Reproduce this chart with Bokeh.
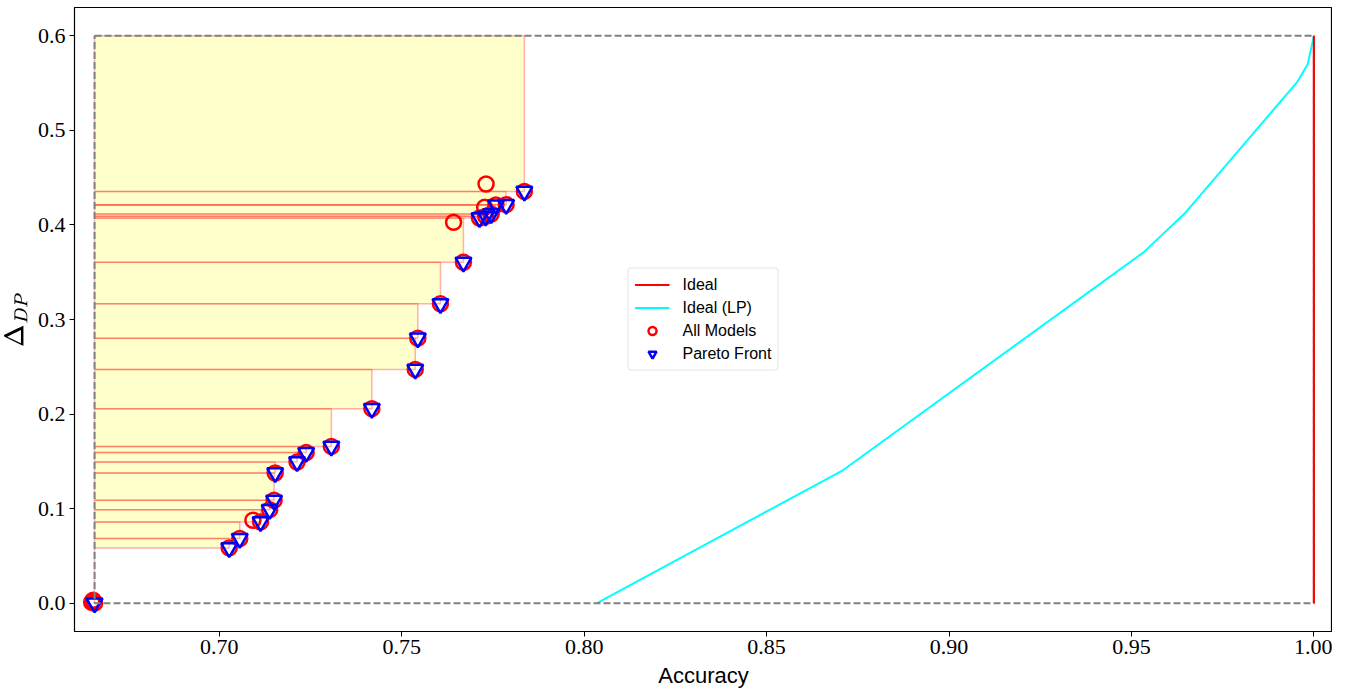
from bokeh.plotting import figure
from bokeh.models import Range1d, FixedTicker, PrintfTickFormatter, Legend, LegendItem, ColumnDataSource
from bokeh.embed import file_html
from bokeh.resources import INLINE

# ---- data ----
pareto_acc = [0.6658, 0.7027, 0.7056, 0.7113, 0.7138, 0.7150, 0.7153, 0.7213, 0.7238, 0.7307,
              0.7418, 0.7537, 0.7544, 0.7606, 0.7669, 0.7713, 0.7730, 0.7745, 0.7758, 0.7786, 0.7836]
pareto_dp = [0.000, 0.0584, 0.0683, 0.0859, 0.0989, 0.1088, 0.1377, 0.1493, 0.1592, 0.1658,
             0.2057, 0.2472, 0.2803, 0.3166, 0.3605, 0.4074, 0.4091, 0.4116, 0.4211, 0.4215, 0.4355]
other_acc = [0.6650, 0.6654, 0.7092, 0.7642, 0.7727, 0.7731]
other_dp = [0.001, 0.003, 0.0877, 0.4028, 0.4186, 0.4433]
all_acc = pareto_acc + other_acc
all_dp = pareto_dp + other_dp

ideal_acc = [1.0, 1.0]
ideal_dp = [0.0, 0.6]
lp_acc = [0.8035, 0.8709, 0.9533, 0.9648, 0.9954, 0.9983, 1.0]
lp_dp = [0.0, 0.1405, 0.371, 0.413, 0.551, 0.570, 0.6]

x_ticks = [0.70, 0.75, 0.80, 0.85, 0.90, 0.95, 1.00]
y_ticks = [0.0, 0.1, 0.2, 0.3, 0.4, 0.5, 0.6]
dp_max = 0.6
acc_max = 1.0

# ---- derived ----
ref_acc = min(pareto_acc)
order = sorted(range(len(pareto_acc)), key=lambda i: pareto_dp[i])
px = [pareto_acc[i] for i in order]
py = [pareto_dp[i] for i in order]
quad_src = ColumnDataSource(dict(
    left=[ref_acc] * len(px),
    right=px,
    bottom=py,
    top=py[1:] + [dp_max],
))

p = figure(width=1332, height=690, output_backend="svg", toolbar_location=None,
           x_range=Range1d(0.6603, 1.0051), y_range=Range1d(-0.03, 0.63),
           min_border_left=65, min_border_top=7, min_border_right=0, min_border_bottom=10)
p.grid.visible = False
p.outline_line_color = "black"
p.outline_line_width = 1.2
p.background_fill_color = "white"

p.quad(left="left", right="right", bottom="bottom", top="top", source=quad_src,
       fill_color="yellow", fill_alpha=0.2, line_color="red", line_alpha=0.3, line_width=1.5)

r_ideal = p.line(ideal_acc, ideal_dp, line_color="red", line_width=2)
r_lp = p.line(lp_acc, lp_dp, line_color="cyan", line_width=2)
r_all = p.scatter(all_acc, all_dp, marker="circle", size=15, fill_color=None,
                  line_color="red", line_width=2.5)
r_par = p.scatter(pareto_acc, pareto_dp, marker="inverted_triangle", size=16, fill_color=None,
                  line_color="blue", line_width=2.5)

# dashed bounding box
p.line([ref_acc, acc_max, acc_max, ref_acc, ref_acc], [dp_max, dp_max, 0.0, 0.0, dp_max],
       line_color="gray", line_width=2, line_dash="7 3")
p.line(ideal_acc, ideal_dp, line_color="red", line_width=2)

legend = Legend(items=[
    LegendItem(label="Ideal", renderers=[r_ideal]),
    LegendItem(label="Ideal (LP)", renderers=[r_lp]),
    LegendItem(label="All Models", renderers=[r_all]),
    LegendItem(label="Pareto Front", renderers=[r_par]),
], location="center")
legend.label_text_font = "Liberation Sans"
legend.label_text_font_size = "16px"
legend.label_text_color = "black"
legend.glyph_width = 35
legend.glyph_height = 20
legend.label_height = 20
legend.label_standoff = 13
legend.spacing = 3
legend.padding = 6
legend.margin = 0
legend.border_line_color = "#cccccc"
legend.border_line_width = 1
legend.background_fill_alpha = 0.85
if "border_radius" in legend.properties():
    legend.border_radius = 4
p.add_layout(legend, "center")

for ax in (p.xaxis, p.yaxis):
    ax.major_label_text_font = "Liberation Serif"
    ax.major_label_text_font_size = "22px"
    ax.axis_label_text_font = "Liberation Sans"
    ax.axis_label_text_font_style = "normal"
    ax.axis_label_text_font_size = "22px"
    ax.axis_label_text_color = "black"
    ax.minor_tick_line_color = None
    ax.major_tick_in = 0
    ax.major_tick_out = 5
    ax.axis_line_color = "black"
    ax.major_tick_line_color = "black"
    ax.major_label_text_color = "black"

p.xaxis.ticker = FixedTicker(ticks=x_ticks)
p.yaxis.ticker = FixedTicker(ticks=y_ticks)
p.xaxis.formatter = PrintfTickFormatter(format="%.2f")
p.yaxis.formatter = PrintfTickFormatter(format="%.1f")
p.xaxis.axis_label = "Accuracy"
p.yaxis.axis_label = r"$$\Delta_{DP}$$"
p.xaxis.axis_label_standoff = 6
p.yaxis.axis_label_standoff = 6
p.xaxis.major_label_standoff = 3
p.yaxis.major_label_standoff = 4

open("out.html", "w").write(file_html(p, INLINE))
